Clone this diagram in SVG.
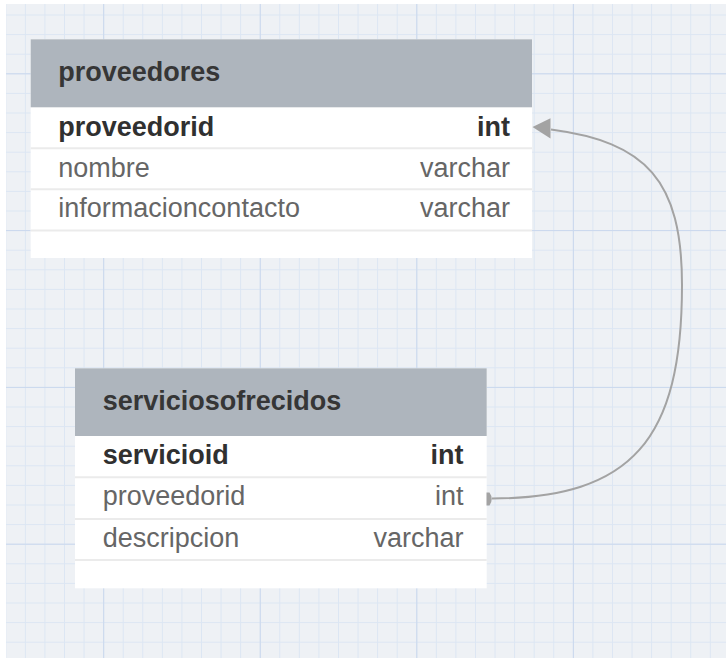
<svg xmlns="http://www.w3.org/2000/svg" width="726" height="658" viewBox="0 0 726 658">
<style>
.hdr{fill:#aeb5bd}
.body{fill:#ffffff}
.sep{stroke:#ebebeb;stroke-width:2}
.t{font-family:"Liberation Sans",Arial,sans-serif;font-size:27px}
.title{font-weight:bold;fill:#363636}
.pk{font-weight:bold;fill:#303030}
.fld{fill:#666666}
.end{text-anchor:end}
.conn{fill:none;stroke:#a3a3a3;stroke-width:2}
.head{fill:#a3a3a3}
</style>
<defs>
<pattern id="minor" patternUnits="userSpaceOnUse" x="5.3" y="14.5" width="19.57" height="19.6">
<path d="M0.5,0 V19.6 M0,0.5 H19.57" stroke="#dce6f3" stroke-width="1" fill="none"/>
</pattern>
<pattern id="major" patternUnits="userSpaceOnUse" x="103.2" y="73.3" width="156.56" height="156.8">
<path d="M0.5,0 V156.8 M0,0.5 H156.56" stroke="#cad8ed" stroke-width="1" fill="none"/>
</pattern>
</defs>
<rect x="0" y="0" width="726" height="658" fill="#ffffff"/>
<rect x="6" y="4" width="720" height="654" fill="#eef1f5"/>
<rect x="6" y="4" width="720" height="654" fill="url(#minor)"/>
<rect x="6" y="4" width="720" height="654" fill="url(#major)"/>

<g id="proveedores">
<rect class="body" x="30.7" y="39.3" width="501.3" height="218.7"/>
<rect class="hdr" x="30.7" y="39.3" width="501.3" height="68"/>
<line class="sep" x1="30.7" y1="148.2" x2="532" y2="148.2"/>
<line class="sep" x1="30.7" y1="189.2" x2="532" y2="189.2"/>
<line class="sep" x1="30.7" y1="230.6" x2="532" y2="230.6"/>
<text class="t title" x="58.3" y="80.5">proveedores</text>
<text class="t pk" x="58.3" y="135.5">proveedorid</text>
<text class="t pk end" x="510" y="135.5">int</text>
<text class="t fld" x="58.3" y="176.5">nombre</text>
<text class="t fld end" x="510" y="176.5">varchar</text>
<text class="t fld" x="58.3" y="217">informacioncontacto</text>
<text class="t fld end" x="510" y="217">varchar</text>
</g>

<g id="serviciosofrecidos">
<rect class="body" x="75" y="368.3" width="411.7" height="220"/>
<rect class="hdr" x="75" y="368.3" width="411.7" height="67.7"/>
<line class="sep" x1="75" y1="477.3" x2="486.7" y2="477.3"/>
<line class="sep" x1="75" y1="519" x2="486.7" y2="519"/>
<line class="sep" x1="75" y1="560" x2="486.7" y2="560"/>
<text class="t title" x="102.7" y="409.5">serviciosofrecidos</text>
<text class="t pk" x="102.7" y="464">servicioid</text>
<text class="t pk end" x="463.5" y="464">int</text>
<text class="t fld" x="102.7" y="505">proveedorid</text>
<text class="t fld end" x="463.5" y="505">int</text>
<text class="t fld" x="102.7" y="546.5">descripcion</text>
<text class="t fld end" x="463.5" y="546.5">varchar</text>
</g>

<g id="connectors">
<path class="conn" d="M492,498.5 C632,498 682,440 682,285 C682,180 646,142 551,129.5"/>
<polygon class="head" points="532.5,127 550.5,118.3 550.5,138.5"/>
<path class="head" d="M486.5,492.5 L489.5,492.5 Q494,499 489.5,505.5 L486.5,505.5 Z"/>
</g>
</svg>
